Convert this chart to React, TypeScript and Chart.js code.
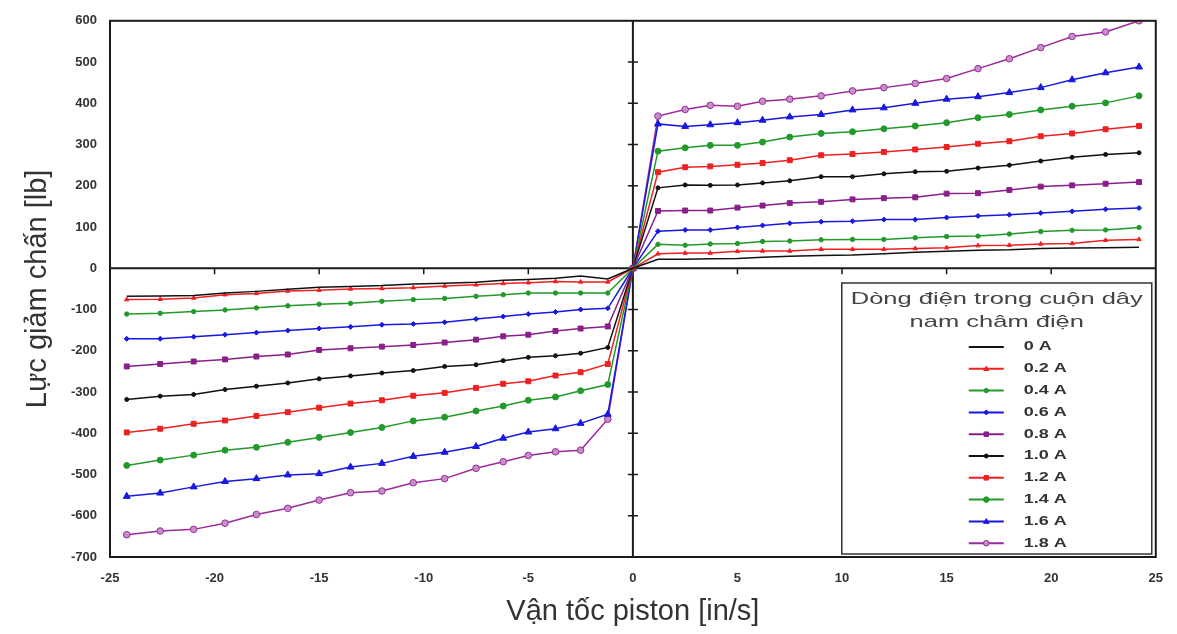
import React, { useEffect, useRef } from "react";
import { Chart, registerables } from "chart.js";
Chart.register(...registerables);

// Piston velocity [in/s]
const xNeg = [-24.2, -22.6, -21.0, -19.5, -18.0, -16.5, -15.0, -13.5, -12.0, -10.5, -9.0, -7.5, -6.2, -5.0, -3.7, -2.5, -1.2];
const xPos = [1.2, 2.5, 3.7, 5.0, 6.2, 7.5, 9.0, 10.5, 12.0, 13.5, 15.0, 16.5, 18.0, 19.5, 21.0, 22.6, 24.2];

const seriesLabels = ["0 A", "0.2 A", "0.4 A", "0.6 A", "0.8 A", "1.0 A", "1.2 A", "1.4 A", "1.6 A", "1.8 A"];

// Damping force [lb], negative velocities (left half)
const neg00 = [-68, -67, -66, -60, -56, -51, -46, -44, -42, -38, -36, -34, -29, -27, -24, -19, -26];
const neg02 = [-76, -75, -72, -64, -61, -55, -53, -50, -49, -47, -43, -40, -37, -35, -32, -33, -33];
const neg04 = [-111, -109, -105, -101, -96, -91, -87, -85, -80, -76, -73, -68, -64, -60, -60, -60, -60];
const neg06 = [-171, -171, -166, -161, -156, -151, -146, -142, -137, -135, -131, -123, -117, -111, -106, -100, -97];
const neg08 = [-238, -232, -226, -221, -214, -209, -198, -194, -190, -186, -180, -173, -165, -161, -152, -146, -141];
const neg10 = [-318, -310, -306, -294, -286, -278, -268, -261, -254, -248, -238, -234, -224, -216, -212, -206, -192];
const neg12 = [-398, -389, -377, -369, -358, -349, -338, -328, -320, -309, -302, -290, -280, -274, -260, -252, -232];
const neg14 = [-478, -465, -453, -441, -434, -422, -410, -398, -386, -370, -361, -346, -334, -320, -312, -297, -282];
const neg16 = [-553, -545, -530, -517, -510, -501, -498, -482, -473, -456, -446, -432, -412, -397, -389, -376, -354];
const neg18 = [-646, -637, -633, -618, -597, -582, -562, -544, -540, -520, -510, -485, -469, -454, -445, -441, -366];

// Damping force [lb], positive velocities (right half)
const pos00 = [22, 22, 23, 24, 27, 29, 31, 32, 35, 39, 41, 44, 45, 48, 49, 50, 51];
const pos02 = [35, 37, 37, 41, 42, 42, 46, 46, 46, 48, 50, 55, 56, 59, 60, 68, 70];
const pos04 = [58, 56, 59, 60, 65, 66, 69, 70, 70, 74, 77, 78, 83, 89, 92, 93, 99];
const pos06 = [90, 93, 93, 99, 104, 109, 113, 114, 118, 118, 123, 127, 130, 134, 138, 143, 146];
const pos08 = [139, 140, 140, 147, 152, 158, 161, 167, 170, 172, 181, 182, 190, 198, 201, 205, 209];
const pos10 = [195, 202, 201, 202, 207, 212, 222, 222, 229, 234, 235, 243, 250, 260, 269, 276, 280];
const pos12 = [233, 245, 247, 251, 255, 262, 274, 277, 282, 288, 294, 302, 308, 320, 327, 337, 345];
const pos14 = [284, 292, 298, 298, 306, 318, 327, 331, 338, 345, 353, 365, 373, 384, 393, 401, 418];
const pos16 = [350, 344, 348, 353, 359, 367, 373, 384, 389, 400, 410, 416, 426, 438, 457, 474, 488];
const pos18 = [369, 385, 395, 393, 405, 410, 418, 430, 438, 448, 460, 484, 508, 535, 562, 573, 600];

const negSeries = [neg00, neg02, neg04, neg06, neg08, neg10, neg12, neg14, neg16, neg18];
const posSeries = [pos00, pos02, pos04, pos06, pos08, pos10, pos12, pos14, pos16, pos18];

const xTitle = "Vận tốc piston [in/s]";
const yTitle = "Lực giảm chấn [lb]";
const legendTitle = ["Dòng điện trong cuộn dây", "nam châm điện"];

// styles
const BLACK = "#111111";
const RED = "#ee2020";
const GREEN = "#229a2a";
const BLUE = "#1818e0";
const PURPLE = "#8a1f8a";
const styles = [
  { color: BLACK, fill: BLACK, shape: "circle", r: 0 },
  { color: RED, fill: RED, shape: "triangle", r: 2.5 },
  { color: GREEN, fill: GREEN, shape: "circle", r: 2.2 },
  { color: BLUE, fill: BLUE, shape: "rectRot", r: 2.5 },
  { color: PURPLE, fill: PURPLE, shape: "rect", r: 3.5 },
  { color: BLACK, fill: BLACK, shape: "circle", r: 2 },
  { color: RED, fill: RED, shape: "rect", r: 3.5 },
  { color: GREEN, fill: GREEN, shape: "circle", r: 3 },
  { color: BLUE, fill: BLUE, shape: "triangle", r: 4 },
  { color: "#9a2a9a", fill: "#c78fc7", shape: "circle", r: 3.3 },
];

function drawMarker(ctx: CanvasRenderingContext2D, shape: string, x: number, y: number, r: number) {
  ctx.beginPath();
  if (shape === "circle") {
    ctx.arc(x, y, r, 0, Math.PI * 2);
  } else if (shape === "rect") {
    ctx.rect(x - r * 0.8, y - r * 0.8, r * 1.6, r * 1.6);
  } else if (shape === "rectRot") {
    ctx.moveTo(x, y - r);
    ctx.lineTo(x + r, y);
    ctx.lineTo(x, y + r);
    ctx.lineTo(x - r, y);
    ctx.closePath();
  } else {
    ctx.moveTo(x, y - r);
    ctx.lineTo(x + r, y + r * 0.7);
    ctx.lineTo(x - r, y + r * 0.7);
    ctx.closePath();
  }
  ctx.fill();
  ctx.stroke();
}

const framePlugin = {
  id: "frame",
  beforeDatasetsDraw(chart: any) {
    const { ctx, chartArea, scales } = chart;
    const { left, right, top, bottom } = chartArea;
    const xs = scales.x;
    const ys = scales.y;
    const x0 = xs.getPixelForValue(0);
    const y0 = ys.getPixelForValue(0);
    ctx.save();
    ctx.strokeStyle = "#1a1a1a";
    ctx.lineWidth = 2;
    ctx.beginPath();
    ctx.moveTo(left, y0);
    ctx.lineTo(right, y0);
    ctx.moveTo(x0, top);
    ctx.lineTo(x0, bottom);
    ctx.stroke();
    ctx.lineWidth = 1.5;
    ctx.beginPath();
    xs.ticks.forEach((t: any) => {
      if (t.value === 0 || t.value <= xs.min || t.value >= xs.max) return;
      const px = xs.getPixelForValue(t.value);
      ctx.moveTo(px, y0);
      ctx.lineTo(px, y0 + 6);
    });
    ys.ticks.forEach((t: any) => {
      if (t.value === 0 || t.value <= ys.min || t.value >= ys.max) return;
      const py = ys.getPixelForValue(t.value);
      ctx.moveTo(x0 - 5, py);
      ctx.lineTo(x0 + 5, py);
    });
    ctx.stroke();
    ctx.restore();
  },
  afterDraw(chart: any) {
    const { ctx, chartArea } = chart;
    const { left, right, top, bottom } = chartArea;
    ctx.save();
    // legend box
    const bl = right - 314;
    const bt = bottom - 274;
    const bw = 310;
    const bh = 271;
    ctx.fillStyle = "#ffffff";
    ctx.fillRect(bl, bt, bw, bh);
    ctx.strokeStyle = "#333333";
    ctx.lineWidth = 1.5;
    ctx.strokeRect(bl, bt, bw, bh);
    const sx = 1.5;
    ctx.fillStyle = "#444444";
    ctx.textAlign = "center";
    ctx.textBaseline = "middle";
    ctx.font = "17px 'Liberation Sans', Arial, sans-serif";
    legendTitle.forEach((line, i) => {
      ctx.save();
      ctx.translate(bl + bw / 2, bt + 16 + i * 23);
      ctx.scale(sx, 1);
      ctx.fillText(line, 0, 0);
      ctx.restore();
    });
    chart.data.datasets.forEach((ds: any, i: number) => {
      const st = styles[i];
      const cy = bt + 64 + i * 21.8;
      ctx.strokeStyle = st.color;
      ctx.lineWidth = 2;
      ctx.beginPath();
      ctx.moveTo(bl + 127, cy);
      ctx.lineTo(bl + 162, cy);
      ctx.stroke();
      if (st.r > 0) {
        ctx.fillStyle = st.fill;
        ctx.lineWidth = 1;
        drawMarker(ctx, st.shape, bl + 144.5, cy, Math.min(st.r, 2.8));
      }
      ctx.fillStyle = "#333333";
      ctx.textAlign = "left";
      ctx.font = "bold 12px 'Liberation Sans', Arial, sans-serif";
      ctx.save();
      ctx.translate(bl + 182, cy);
      ctx.scale(sx, 1);
      ctx.fillText(ds.label, 0, 0);
      ctx.restore();
    });
    // plot frame
    ctx.strokeStyle = "#1a1a1a";
    ctx.lineWidth = 2;
    ctx.strokeRect(left, top, right - left, bottom - top);
    ctx.restore();
  },
};

export default function App() {
  const ref = useRef<HTMLCanvasElement | null>(null);
  useEffect(() => {
    document.body.style.margin = "0";
    const canvas = ref.current;
    if (!canvas) return;
    Chart.defaults.font.family = "'Liberation Sans', Arial, sans-serif";
    const datasets = seriesLabels.map((label, i) => {
      const st = styles[i];
      const data = [
        ...xNeg.map((x, k) => ({ x, y: negSeries[i][k] })),
        { x: 0, y: 0 },
        ...xPos.map((x, k) => ({ x, y: posSeries[i][k] })),
      ];
      return {
        label,
        data,
        showLine: true,
        borderColor: st.color,
        backgroundColor: st.fill,
        borderWidth: 1.5,
        pointRadius: st.r,
        pointStyle: st.shape,
        pointBackgroundColor: st.fill,
        pointBorderColor: st.color,
        pointBorderWidth: 1,
        tension: 0,
      };
    });
    const chart = new Chart(canvas, {
      type: "scatter",
      data: { datasets },
      options: {
        animation: false,
        responsive: false,
        devicePixelRatio: 1,
        layout: { padding: { top: 20, right: 20, bottom: 0, left: 0 } },
        plugins: {
          legend: { display: false },
          tooltip: { enabled: false },
        },
        scales: {
          x: {
            type: "linear",
            min: -25,
            max: 25,
            grid: { display: false, drawTicks: false },
            border: { display: false },
            ticks: {
              stepSize: 5,
              padding: 14,
              color: "#333333",
              font: { size: 13, weight: "bold" },
            },
            title: {
              display: true,
              text: xTitle,
              color: "#333333",
              font: { size: 29 },
              padding: { top: 0, bottom: 4.6 },
            },
            afterFit: (s: any) => {
              s.height = 77;
            },
          },
          y: {
            type: "linear",
            min: -700,
            max: 600,
            grid: { display: false, drawTicks: false },
            border: { display: false },
            ticks: {
              stepSize: 100,
              padding: 13,
              color: "#333333",
              font: { size: 13, weight: "bold" },
            },
            title: {
              display: true,
              text: yTitle,
              color: "#333333",
              font: { size: 29 },
              padding: { top: 20.5, bottom: 0 },
            },
            afterFit: (s: any) => {
              s.width = 110;
            },
          },
        },
      } as any,
      plugins: [framePlugin],
    });
    return () => chart.destroy();
  }, []);
  return (
    <div style={{ width: 1177, height: 634, background: "#ffffff" }}>
      <canvas ref={ref} width={1177} height={634} style={{ display: "block", width: 1177, height: 634 }} />
    </div>
  );
}
